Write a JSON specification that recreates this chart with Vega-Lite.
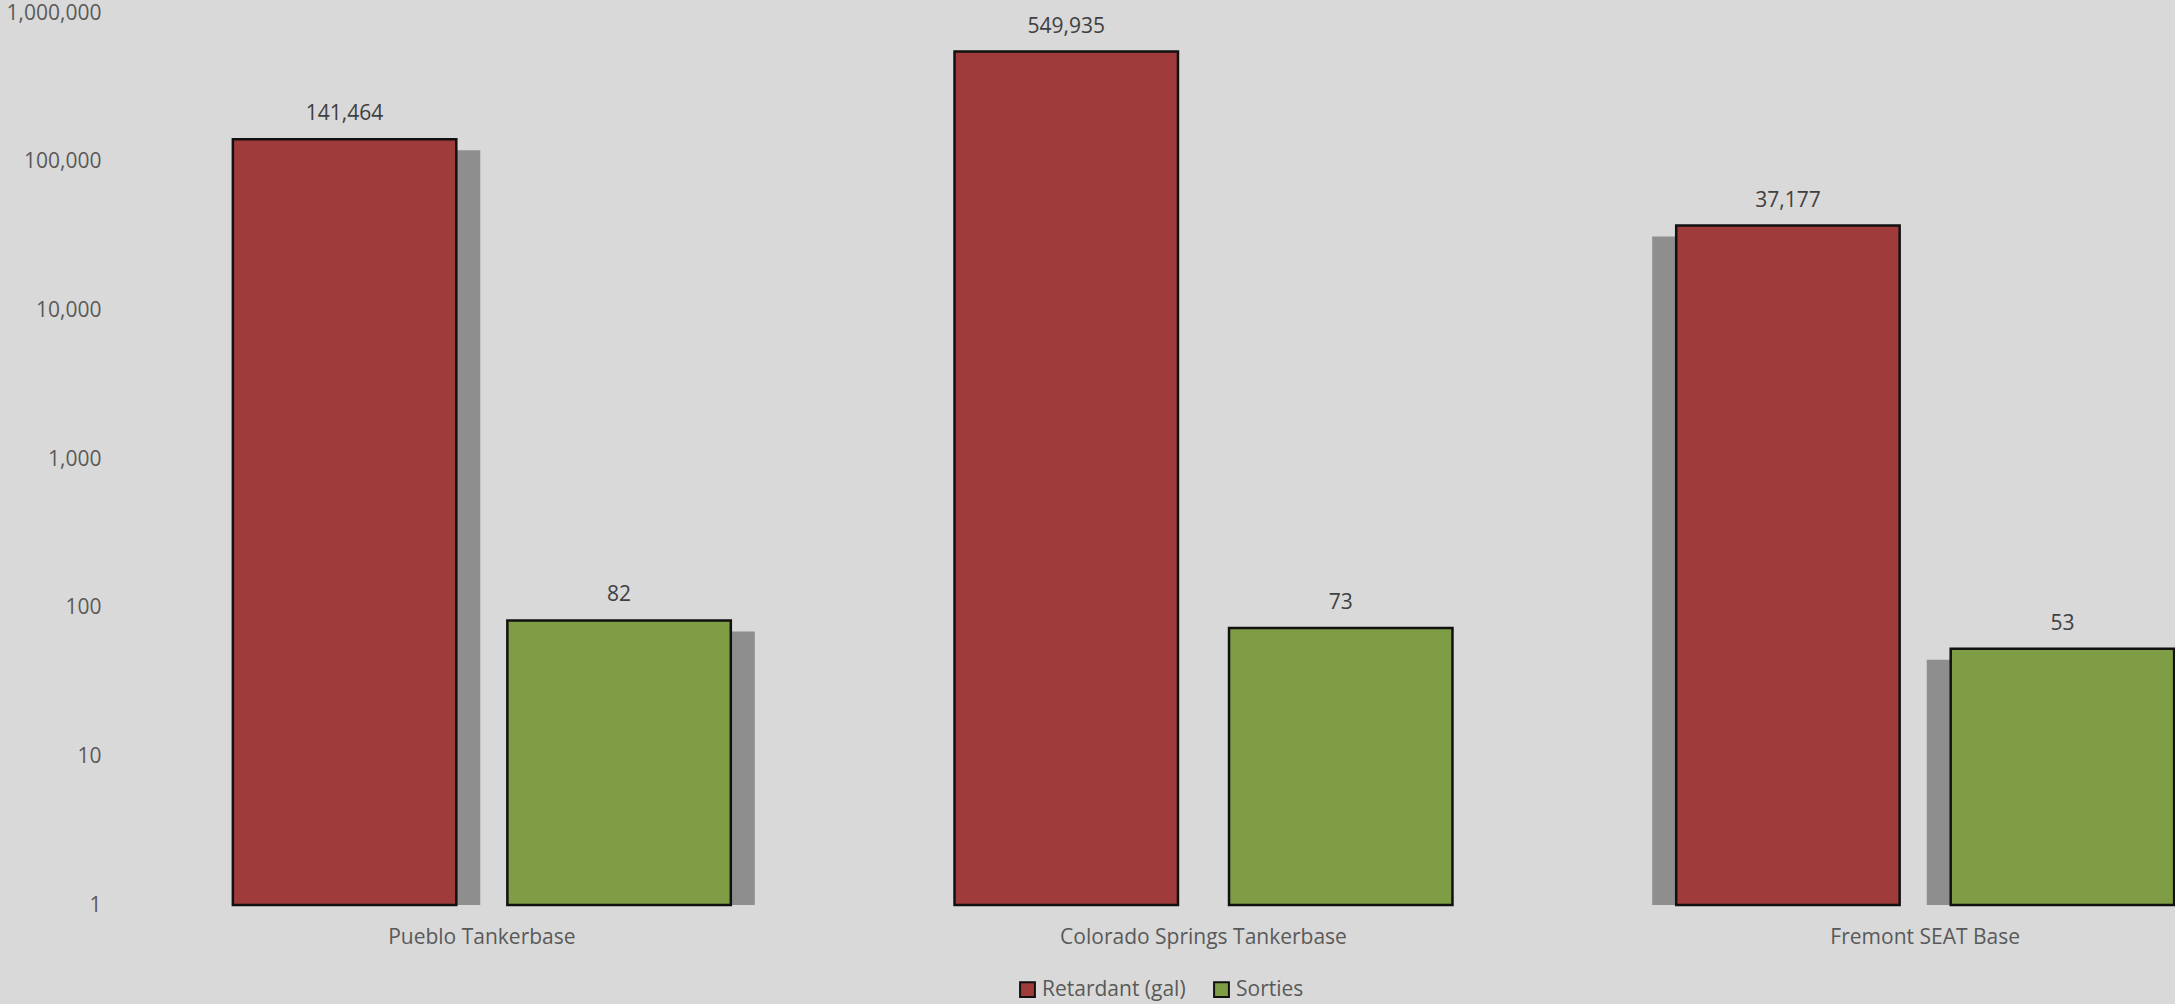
{
  "$schema": "https://vega.github.io/schema/vega-lite/v6.json",
  "autosize": {"type": "none"},
  "padding": {"left": 121, "top": 13, "right": 0, "bottom": 100},
  "width": 2165,
  "height": 892,
  "background": "#d9d9d9",
  "config": {
    "view": {"stroke": null},
    "font": "Open Sans",
    "axis": {"labelFont": "Open Sans", "labelFontSize": 21, "labelColor": "#595959", "title": null}
  },
  "data": {
    "values": [
      {"base": "Pueblo Tankerbase", "series": "Retardant (gal)", "value": 141464},
      {"base": "Pueblo Tankerbase", "series": "Sorties", "value": 82},
      {"base": "Colorado Springs Tankerbase", "series": "Retardant (gal)", "value": 549935},
      {"base": "Colorado Springs Tankerbase", "series": "Sorties", "value": 73},
      {"base": "Fremont SEAT Base", "series": "Retardant (gal)", "value": 37177},
      {"base": "Fremont SEAT Base", "series": "Sorties", "value": 53}
    ]
  },
  "resolve": {"scale": {"x": "independent", "xOffset": "independent"}, "axis": {"x": "independent"}},
  "layer": [
    {
      "mark": {"type": "bar", "color": "#8e8e8e", "yOffset": 11},
      "encoding": {
        "x": {
          "field": "base", "type": "nominal", "sort": null,
          "scale": {"domain": ["Pueblo Tankerbase", "Colorado Springs Tankerbase", "Fremont SEAT Base"], "paddingInner": 0.2862, "paddingOuter": 0.1946},
          "axis": null
        },
        "xOffset": {
          "field": "series", "type": "nominal", "sort": null,
          "scale": {"domain": ["Retardant (gal)", "Sorties"], "paddingInner": 0.186, "paddingOuter": 0}
        },
        "y": {
          "field": "value", "type": "quantitative",
          "scale": {"type": "log", "domain": [1, 1000000], "nice": false},
          "axis": {"values": [1, 10, 100, 1000, 10000, 100000, 1000000], "format": ",", "ticks": false, "domain": false, "grid": false, "labelPadding": 20}
        },
        "y2": {"datum": 1}
      }
    },
    {
      "encoding": {
        "x": {
          "field": "base", "type": "nominal", "sort": null,
          "scale": {"domain": ["Pueblo Tankerbase", "Colorado Springs Tankerbase", "Fremont SEAT Base"], "paddingInner": 0.31, "paddingOuter": 0.155},
          "axis": {"labelAngle": 0, "ticks": false, "domain": false, "labelPadding": 32, "labelBaseline": "middle", "labelFontSize": 21, "labelLimit": 0}
        },
        "xOffset": {
          "field": "series", "type": "nominal", "sort": null,
          "scale": {"domain": ["Retardant (gal)", "Sorties"], "paddingInner": 0.186, "paddingOuter": 0}
        },
        "y": {"field": "value", "type": "quantitative"}
      },
      "layer": [
        {
          "mark": {"type": "bar", "stroke": "#111111", "strokeWidth": 2.5},
          "encoding": {
            "y2": {"datum": 1},
            "color": {
              "field": "series", "type": "nominal", "sort": null,
              "scale": {"domain": ["Retardant (gal)", "Sorties"], "range": ["#9f3b3b", "#7f9d44"]},
              "legend": {
                "title": null, "orient": "none", "direction": "horizontal",
                "legendX": 896, "legendY": 966,
                "symbolType": "square", "symbolSize": 220, "symbolStrokeColor": "#111111", "symbolStrokeWidth": 2,
                "labelFont": "Open Sans", "labelFontSize": 21, "labelColor": "#595959", "labelOffset": 4, "columnPadding": 24
              }
            }
          }
        },
        {
          "mark": {"type": "text", "baseline": "middle", "dy": -25, "fontSize": 21, "color": "#404040", "font": "Open Sans"},
          "encoding": {"text": {"field": "value", "type": "quantitative", "format": ","}}
        }
      ]
    }
  ]
}
